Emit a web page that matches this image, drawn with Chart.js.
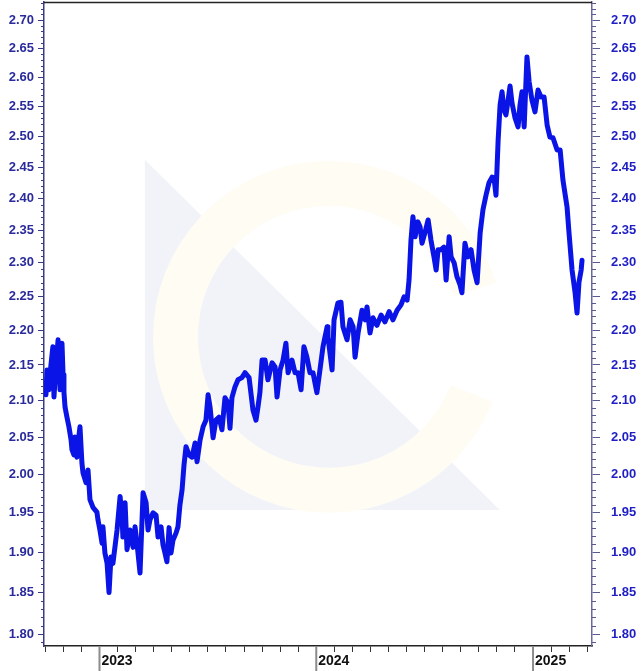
<!DOCTYPE html>
<html>
<head>
<meta charset="utf-8">
<script src="https://cdn.jsdelivr.net/npm/chart.js@4.4.1/dist/chart.umd.min.js"></script>
<style>
  html, body { margin: 0; padding: 0; background: #fff; }
  #wrap { width: 641px; height: 671px; }
</style>
</head>
<body>
<div id="wrap"><canvas id="chart" width="641" height="671"></canvas></div>
<script>
// time as fractional years
const time = [
    2022.753, 2022.758, 2022.767, 2022.776, 2022.785, 2022.790, 2022.799, 2022.809, 2022.818, 2022.827,
    2022.832, 2022.836, 2022.841, 2022.850, 2022.859, 2022.869, 2022.873, 2022.882, 2022.887, 2022.896,
    2022.901, 2022.910, 2022.919, 2022.924, 2022.938, 2022.947, 2022.956, 2022.970, 2022.988, 2022.993,
    2023.002, 2023.012, 2023.016, 2023.025, 2023.035, 2023.044, 2023.053, 2023.062, 2023.081, 2023.095,
    2023.104, 2023.108, 2023.118, 2023.127, 2023.141, 2023.155, 2023.164, 2023.173, 2023.187, 2023.201,
    2023.215, 2023.224, 2023.233, 2023.247, 2023.261, 2023.270, 2023.284, 2023.293, 2023.302, 2023.311,
    2023.321, 2023.330, 2023.339, 2023.353, 2023.362, 2023.371, 2023.381, 2023.390, 2023.399, 2023.413,
    2023.427, 2023.441, 2023.450, 2023.464, 2023.478, 2023.491, 2023.501, 2023.510, 2023.524, 2023.537,
    2023.551, 2023.565, 2023.579, 2023.593, 2023.602, 2023.611, 2023.625, 2023.639, 2023.657, 2023.671,
    2023.690, 2023.708, 2023.722, 2023.731, 2023.740, 2023.750, 2023.764, 2023.777, 2023.796, 2023.810,
    2023.819, 2023.833, 2023.847, 2023.860, 2023.870, 2023.888, 2023.902, 2023.916, 2023.930, 2023.943,
    2023.957, 2023.971, 2023.985, 2024.003, 2024.017, 2024.031, 2024.050, 2024.054, 2024.073, 2024.082,
    2024.100, 2024.114, 2024.123, 2024.142, 2024.156, 2024.170, 2024.179, 2024.193, 2024.211, 2024.225,
    2024.234, 2024.248, 2024.262, 2024.280, 2024.299, 2024.317, 2024.336, 2024.354, 2024.373, 2024.391,
    2024.405, 2024.419, 2024.428, 2024.437, 2024.446, 2024.456, 2024.469, 2024.479, 2024.488, 2024.502,
    2024.516, 2024.529, 2024.543, 2024.553, 2024.562, 2024.576, 2024.589, 2024.599, 2024.613, 2024.622,
    2024.636, 2024.649, 2024.663, 2024.672, 2024.686, 2024.700, 2024.714, 2024.728, 2024.742, 2024.756,
    2024.769, 2024.783, 2024.797, 2024.811, 2024.820, 2024.829, 2024.839, 2024.848, 2024.857, 2024.866,
    2024.875, 2024.885, 2024.894, 2024.903, 2024.917, 2024.931, 2024.940, 2024.949, 2024.959, 2024.972,
    2024.982, 2024.995, 2025.009, 2025.023, 2025.037, 2025.051, 2025.065, 2025.078, 2025.092, 2025.111,
    2025.125, 2025.138, 2025.157, 2025.166, 2025.180, 2025.194, 2025.203, 2025.212, 2025.222, 2025.226
];

const price = [
    2.108, 2.143, 2.115, 2.150, 2.176, 2.105, 2.150, 2.186, 2.115, 2.181,
    2.136, 2.112, 2.091, 2.077, 2.064, 2.046, 2.033, 2.026, 2.050, 2.023,
    2.042, 2.064, 2.015, 2.002, 1.989, 2.006, 1.967, 1.957, 1.951, 1.941,
    1.928, 1.911, 1.932, 1.899, 1.886, 1.850, 1.894, 1.886, 1.928, 1.971,
    1.945, 1.919, 1.963, 1.903, 1.928, 1.906, 1.932, 1.911, 1.874, 1.976,
    1.963, 1.928, 1.941, 1.950, 1.947, 1.919, 1.932, 1.909, 1.899, 1.888,
    1.931, 1.899, 1.915, 1.924, 1.932, 1.960, 1.980, 2.013, 2.037, 2.026,
    2.023, 2.042, 2.017, 2.046, 2.064, 2.073, 2.108, 2.091, 2.049, 2.073,
    2.077, 2.060, 2.104, 2.097, 2.062, 2.104, 2.119, 2.129, 2.132, 2.139,
    2.132, 2.087, 2.073, 2.091, 2.111, 2.157, 2.157, 2.129, 2.153, 2.147,
    2.105, 2.143, 2.157, 2.181, 2.139, 2.157, 2.139, 2.139, 2.115, 2.176,
    2.161, 2.139, 2.139, 2.111, 2.143, 2.176, 2.205, 2.190, 2.143, 2.215,
    2.240, 2.241, 2.205, 2.186, 2.215, 2.205, 2.161, 2.196, 2.229, 2.215,
    2.234, 2.196, 2.218, 2.207, 2.222, 2.212, 2.227, 2.215, 2.229, 2.237,
    2.249, 2.244, 2.274, 2.335, 2.371, 2.340, 2.363, 2.355, 2.330, 2.347,
    2.366, 2.335, 2.309, 2.289, 2.320, 2.320, 2.324, 2.274, 2.340, 2.309,
    2.300, 2.279, 2.267, 2.255, 2.330, 2.309, 2.320, 2.289, 2.270, 2.346,
    2.382, 2.405, 2.425, 2.434, 2.433, 2.405, 2.494, 2.553, 2.575, 2.544,
    2.536, 2.561, 2.585, 2.556, 2.531, 2.516, 2.553, 2.575, 2.516, 2.635,
    2.592, 2.561, 2.541, 2.578, 2.566, 2.566, 2.519, 2.499, 2.498, 2.478,
    2.478, 2.429, 2.386, 2.346, 2.289, 2.255, 2.225, 2.271, 2.289, 2.304
];

const priceTicks = [
    1.80, 1.85, 1.90, 1.95, 2.00, 2.05, 2.10, 2.15, 2.20, 2.25,
    2.30, 2.35, 2.40, 2.45, 2.50, 2.55, 2.60, 2.65, 2.70
];
const yearMarks = [2023, 2024, 2025];

const xMin = 2022.744, xMax = 2025.272;
const yMin = 1.7858, yMax = 2.7323;

// one tick per month on the time axis
let monthTicks = [];
for (let m = 0; m <= 30; m++) {
    monthTicks.push(2022.75 + m / 12);
}

const labelFont = { family: "'Liberation Sans', Arial, sans-serif", size: 13, weight: 'bold' };

const isYear = (v) => Math.abs(v - Math.round(v)) < 1e-6 && yearMarks.includes(Math.round(v));

// drop the extra room chart.js keeps for the end labels
const noPadding = (s) => {
    s.paddingTop = 0;
    s.paddingBottom = 0;
    s.paddingLeft = 0;
    s.paddingRight = 0;
};

const chartDecor = {
    id: 'chartDecor',
    beforeDatasetsDraw(chart) {
        // faint logo behind the line
        const { ctx, chartArea: a } = chart;
        const w = a.right - a.left, h = a.bottom - a.top;
        const px = (f) => a.left + f * w;
        const py = (f) => a.top + f * h;
        ctx.save();
        ctx.fillStyle = '#f2f3f9';
        ctx.beginPath();
        ctx.moveTo(px(0.184), py(0.245));
        ctx.lineTo(px(0.184), py(0.789));
        ctx.lineTo(px(0.832), py(0.789));
        ctx.closePath();
        ctx.fill();
        ctx.strokeStyle = '#fefcf3';
        ctx.lineWidth = 45;
        ctx.beginPath();
        ctx.arc(px(0.52), py(0.52), 0.28 * w, 0.12 * Math.PI, 1.9 * Math.PI);
        ctx.stroke();
        ctx.restore();
    },
    afterDraw(chart) {
        const { ctx, chartArea: a, scales } = chart;
        ctx.save();
        // top frame line
        ctx.strokeStyle = '#222';
        ctx.lineWidth = 1.5;
        ctx.beginPath();
        ctx.moveTo(a.left, a.top + 0.5);
        ctx.lineTo(a.right, a.top + 0.5);
        ctx.stroke();

        // minor ticks every 0.01
        ctx.lineWidth = 1;
        for (let k = 179; k <= 273; k++) {
            if (k % 5 === 0) continue;
            const yl = Math.round(scales.y.getPixelForValue(k / 100)) + 0.5;
            ctx.strokeStyle = '#3a3a85';
            ctx.beginPath();
            ctx.moveTo(a.left - 3, yl);
            ctx.lineTo(a.left, yl);
            ctx.stroke();
            const yr = Math.round(scales.y2.getPixelForValue(k / 100)) + 0.5;
            ctx.strokeStyle = '#5a5a92';
            ctx.beginPath();
            ctx.moveTo(a.right, yr);
            ctx.lineTo(a.right + 4, yr);
            ctx.stroke();
        }

        // year separators under the time axis
        ctx.strokeStyle = '#8c8c8c';
        ctx.lineWidth = 2;
        yearMarks.forEach((yr) => {
            const x = scales.x.getPixelForValue(yr);
            ctx.beginPath();
            ctx.moveTo(x, a.bottom);
            ctx.lineTo(x, chart.height);
            ctx.stroke();
        });
        ctx.restore();
    }
};

const points = time.map((t, i) => ({ x: t, y: price[i] }));

const chart = new Chart(document.getElementById('chart'), {
    type: 'line',
    data: {
        datasets: [{
            data: points,
            borderColor: '#0a14e6',
            borderWidth: 5,
            borderJoinStyle: 'round',
            borderCapStyle: 'round',
            pointRadius: 0,
            tension: 0,
            fill: false
        }]
    },
    options: {
        responsive: false,
        animation: false,
        devicePixelRatio: 1,
        layout: { padding: { top: 2, left: 0, right: 0, bottom: 0 } },
        plugins: {
            legend: { display: false },
            tooltip: { enabled: false }
        },
        scales: {
            x: {
                type: 'linear',
                bounds: 'data',
                min: xMin,
                max: xMax,
                afterBuildTicks: (s) => { s.ticks = monthTicks.map((v) => ({ value: v })); },
                afterFit: (s) => { s.height = 25; noPadding(s); },
                grid: { drawOnChartArea: false, tickLength: 6, tickColor: '#333', color: '#333' },
                border: { color: '#222', width: 1.5 },
                ticks: {
                    autoSkip: false,
                    maxRotation: 0,
                    align: 'start',
                    labelOffset: 2,
                    padding: 1,
                    color: '#111',
                    font: { family: "'Liberation Sans', Arial, sans-serif", size: 14, weight: 'bold' },
                    callback: (v) => isYear(v) ? String(Math.round(v)) : ''
                }
            },
            y: {
                type: 'logarithmic',
                position: 'left',
                bounds: 'data',
                min: yMin,
                max: yMax,
                afterBuildTicks: (s) => { s.ticks = priceTicks.map((v) => ({ value: v })); },
                afterFit: (s) => { s.width = 44; noPadding(s); },
                grid: { drawOnChartArea: false, tickLength: 6, tickColor: '#3a3a85' },
                border: { color: '#3a3a85', width: 1.5 },
                ticks: {
                    padding: 4,
                    color: '#2a2a9c',
                    font: labelFont,
                    callback: (v) => Number(v).toFixed(2)
                }
            },
            y2: {
                type: 'logarithmic',
                position: 'right',
                bounds: 'data',
                min: yMin,
                max: yMax,
                afterBuildTicks: (s) => { s.ticks = priceTicks.map((v) => ({ value: v })); },
                afterFit: (s) => { s.width = 49; noPadding(s); },
                grid: { drawOnChartArea: false, tickLength: 8, tickColor: '#5a5a92' },
                border: { color: '#6a6a9a', width: 1.5 },
                ticks: {
                    padding: 11,
                    color: '#1e1ec4',
                    font: labelFont,
                    callback: (v) => Number(v).toFixed(2)
                }
            }
        }
    },
    plugins: [chartDecor]
});
</script>
</body>
</html>
